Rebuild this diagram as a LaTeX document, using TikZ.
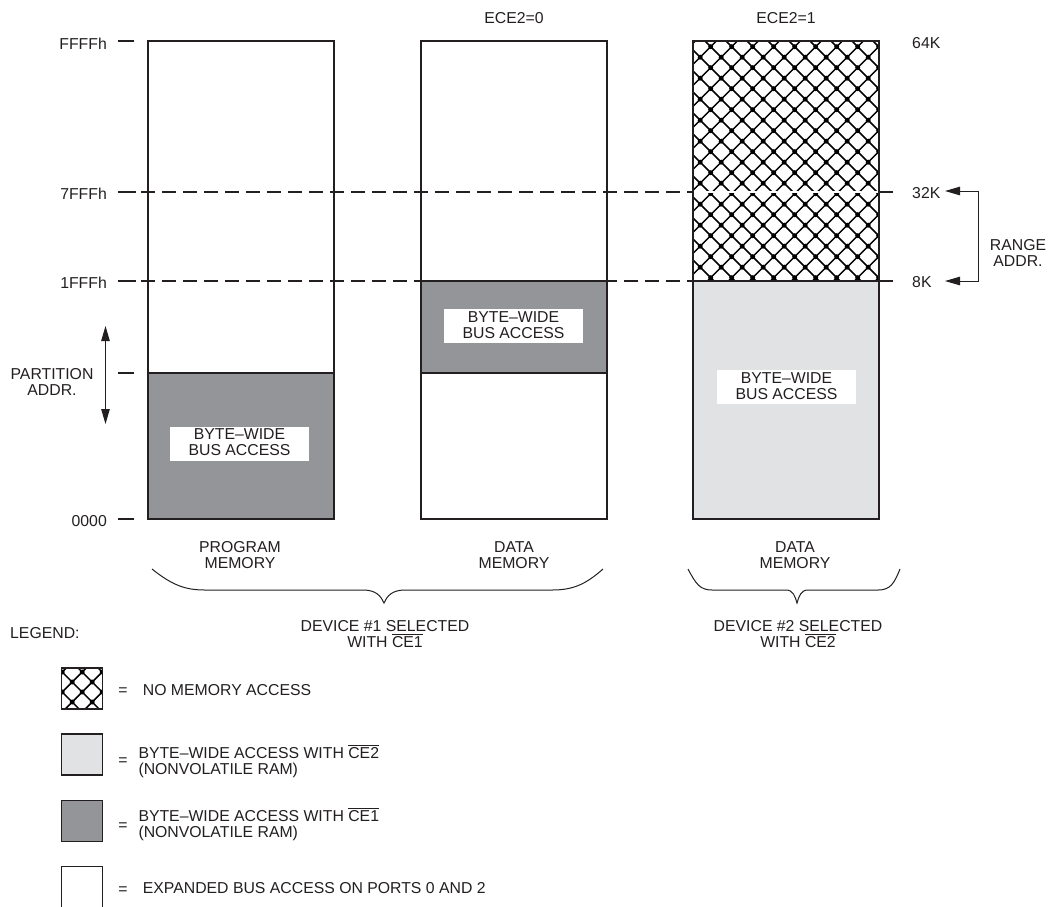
\documentclass[tikz,border=0pt]{standalone}
\usepackage{fontspec}
\setmainfont{Liberation Sans}
\usetikzlibrary{arrows.meta}
\definecolor{ink}{HTML}{231F20}
\definecolor{dgray}{HTML}{939598}
\definecolor{lgray}{HTML}{E1E2E4}
\newcommand\ovl[1]{\setbox0\hbox{#1}\leavevmode\rlap{\rule[12.8pt]{\wd0}{0.9pt}}\box0}
% crosshatch: x0,y0,x1,y1,c,p,q
\newcommand\xhatch[7]{%
  \begin{scope}
    \clip (#1,#2) rectangle (#3,#4);
    \begin{scope}[shift={(#1,#2)}]
      \foreach \k in {-14,...,24}{
        \draw[hatch] ({#6+\k*#5-300},-300) -- ++(600,600);
        \draw[hatch] ({#7+\k*#5-300},300) -- ++(600,-600);
      }
      \foreach \a in {-13,...,10}{
        \foreach \b in {-3,...,21}{
          \fill[black] ({(#6+#7+(\a+\b)*#5)/2},{(#7-#6+(\b-\a)*#5)/2}) circle (2.5pt);
        }
      }
    \end{scope}
  \end{scope}}
\begin{document}
\begin{tikzpicture}[x=1pt,y=-1pt,
  lbl/.style={font=\fontsize{15.8}{16}\selectfont, inner sep=0pt, text=ink, align=center},
  memcol/.style={draw=ink, line width=1.2pt},
  tickline/.style={draw=ink, line width=1.1pt},
  dashline/.style={draw=ink, line width=1.1pt, dash pattern=on 14pt off 7pt},
  whitedash/.style={draw=white, line width=1.8pt, dash pattern=on 14pt off 7pt},
  hatch/.style={line width=1.5pt, black},
  arrowline/.style={draw=ink, line width=1pt},
  bracestyle/.style={draw=ink, line width=1pt}]
\useasboundingbox[fill=white] (0,0) rectangle (1048,906);

% ---- fills ----
\fill[dgray] (148,373) rectangle (334,519);
\fill[dgray] (421,281) rectangle (607,373);
\fill[lgray] (693,281) rectangle (879,519);
\fill[white] (693,41) rectangle (879,281);
\xhatch{693}{41}{879}{281}{21}{12}{23.4}

% ---- dashed address lines ----
\draw[dashline] (141,192) -- (693,192);
\draw[dashline] (141,281) -- (693,281);
\draw[whitedash] (700,192) -- (879,192);
\draw[tickline] (879,192) -- (893,192);
\draw[tickline] (879,281) -- (893,281);

% ---- ticks ----
\draw[tickline] (118,41) -- (134,41);
\draw[tickline] (118,192) -- (136,192);
\draw[tickline] (118,281) -- (136,281);
\draw[tickline] (118,373) -- (134,373);
\draw[tickline] (118,519) -- (134,519);

% ---- columns ----
\draw[memcol] (148,41) rectangle (334,519);
\draw[memcol] (148,373) -- (334,373);
\draw[memcol] (421,41) rectangle (607,519);
\draw[memcol] (421,281) -- (607,281);
\draw[memcol] (421,373) -- (607,373);
\draw[memcol] (693,41) rectangle (879,519);
\draw[memcol] (693,281) -- (879,281);

% ---- white label boxes ----
\fill[white] (170,427) rectangle (309,461);
\fill[white] (444,309) rectangle (583,343);
\fill[white] (717,370) rectangle (856,404);
\node[lbl] (bw1) at (239.5,442.5) {BYTE\textendash WIDE\\BUS ACCESS};
\node[lbl] (bw2) at (513.5,325) {BYTE\textendash WIDE\\BUS ACCESS};
\node[lbl] (bw3) at (786.5,386.5) {BYTE\textendash WIDE\\BUS ACCESS};

% ---- address labels ----
\node[lbl, anchor=east] (aFFFF) at (107,43.5) {FFFFh};
\node[lbl, anchor=east] (a7FFF) at (107,193.5) {7FFFh};
\node[lbl, anchor=east] (a1FFF) at (107,282.5) {1FFFh};
\node[lbl, anchor=east] (a0000) at (107,521) {0000};
\node[lbl] (ece0) at (514,18) {ECE2=0};
\node[lbl] (ece1) at (786,18) {ECE2=1};
\node[lbl, anchor=west] (k64) at (912,43.5) {64K};
\node[lbl, anchor=west] (k32) at (912,193) {32K};
\node[lbl, anchor=west] (k8) at (912,282) {8K};
\node[lbl] (range) at (1018,253) {RANGE\\ADDR.};
\node[lbl] (part) at (52,382) {PARTITION\\ADDR.};

% ---- range arrows ----
\coordinate (rt1) at (945,191);
\coordinate (rg1) at (978,191);
\coordinate (rg2) at (978,281);
\coordinate (rt2) at (945,281);
\draw[arrowline, {Triangle[length=15pt,width=8.5pt]}-{Triangle[length=15pt,width=8.5pt]}] (rt1) -- (rg1) -- (rg2) -- (rt2);

% ---- partition arrow ----
\coordinate (pa1) at (105.5,326);
\coordinate (pa2) at (105.5,424);
\draw[arrowline, {Triangle[length=15pt,width=8.5pt]}-{Triangle[length=15pt,width=8.5pt]}] (pa1) -- (pa2);

% ---- column captions ----
\node[lbl] (pm) at (240,555) {PROGRAM\\MEMORY};
\node[lbl] (dm1) at (514,555) {DATA\\MEMORY};
\node[lbl] (dm2) at (795,555) {DATA\\MEMORY};

% ---- braces ----
\draw[bracestyle] (152,569) .. controls (172,585) and (185,590) .. (205,590)
  -- (363,590) .. controls (376,590) and (381,596) .. (384,603)
  .. controls (387,596) and (392,590) .. (405,590)
  -- (552,590) .. controls (572,590) and (585,585) .. (603,569);
\draw[bracestyle] (688,569) .. controls (696,584) and (700,590) .. (712,590)
  -- (786,590) .. controls (793,590) and (795,596) .. (797,603)
  .. controls (799,596) and (801,590) .. (808,590)
  -- (878,590) .. controls (890,590) and (894,584) .. (900,569);

\node[lbl] (dev1) at (385,634) {DEVICE \#1 SELECTED\\WITH \ovl{CE1}};
\node[lbl] (dev2) at (798,634) {DEVICE \#2 SELECTED\\WITH \ovl{CE2}};

% ---- legend ----
\node[lbl, anchor=west] (leg) at (10,633) {LEGEND:};
\fill[white] (61.7,668) rectangle (102.7,709);
\xhatch{61.7}{668}{102.7}{709}{20}{16.5}{24.5}
\draw[memcol] (61.7,668) rectangle (102.7,709);
\fill[lgray] (61.7,734) rectangle (102.7,775);
\draw[memcol] (61.7,734) rectangle (102.7,775);
\fill[dgray] (61.7,800.5) rectangle (102.7,841.5);
\draw[memcol] (61.7,800.5) rectangle (102.7,841.5);
\draw[memcol] (61.7,912) -- (61.7,866.7) -- (102.7,866.7) -- (102.7,912);

\node[lbl] (eq1) at (123,692) {=};
\node[lbl] (eq2) at (123,762) {=};
\node[lbl] (eq3) at (123,827) {=};
\node[lbl] (eq4) at (123,891) {=};
\node[lbl, anchor=west] (lt1) at (142.7,690) {NO MEMORY ACCESS};
\node[lbl, anchor=west, align=left] (lt2) at (138.3,761) {BYTE\textendash WIDE ACCESS WITH \ovl{CE2}\\(NONVOLATILE RAM)};
\node[lbl, anchor=west, align=left] (lt3) at (138.3,824) {BYTE\textendash WIDE ACCESS WITH \ovl{CE1}\\(NONVOLATILE RAM)};
\node[lbl, anchor=west] (lt4) at (142.7,888) {EXPANDED BUS ACCESS ON PORTS 0 AND 2};
\end{tikzpicture}
\end{document}
